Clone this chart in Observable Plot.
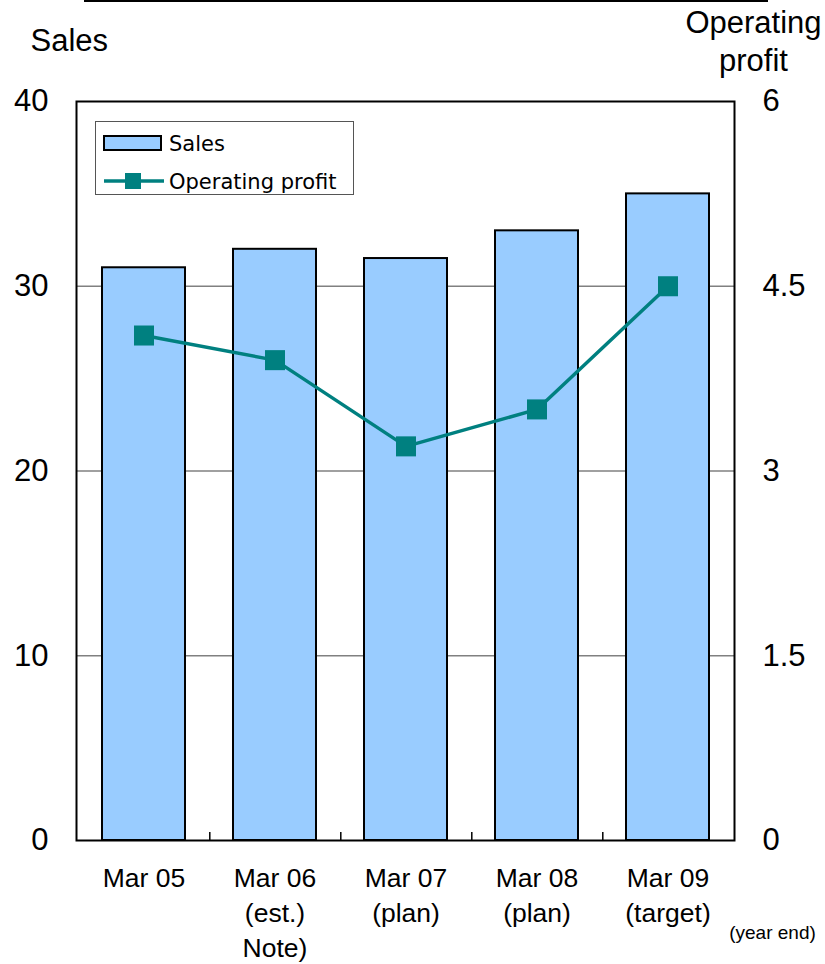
<!DOCTYPE html>
<html>
<head>
<meta charset="utf-8">
<script src="https://cdn.jsdelivr.net/npm/d3@7"></script>
<script src="https://cdn.jsdelivr.net/npm/@observablehq/plot@0.6"></script>
<style>
  html, body { margin: 0; padding: 0; background: #fff; }
  #wrap { position: relative; width: 825px; height: 964px; overflow: hidden; }
  #wrap > * { position: absolute; }
</style>
</head>
<body>
<div id="wrap"></div>
<script>
// ---- data ----
const categories = ["Mar 05", "Mar 06", "Mar 07", "Mar 08", "Mar 09"];
const categoryLabels = ["Mar 05", "Mar 06\n(est.)\nNote)", "Mar 07\n(plan)", "Mar 08\n(plan)", "Mar 09\n(target)"];
const sales = [31, 32, 31.5, 33, 35];
const operatingProfit = [4.1, 3.9, 3.2, 3.5, 4.5];
const salesTicks = [0, 10, 20, 30, 40];
const profitTicks = [0, 1.5, 3, 4.5, 6];
const gridValues = [10, 20, 30];

const salesMax = 40, profitMax = 6;
const k = salesMax / profitMax;
const rows = categories.map((c, i) => ({cat: c, sales: sales[i], profit: operatingProfit[i]}));

const teal = "#008080";
const barFill = "#99ccff";
const font = "'Liberation Sans', Arial, Helvetica, sans-serif";

const W = 825, H = 964;
const mL = 76, mR = 91, mT = 101, mB = 124;
const step = (W - mL - mR) / categories.length;
const pxPerUnit = (H - mT - mB) / salesMax;

const chart = Plot.plot({
  width: W,
  height: H,
  marginLeft: mL,
  marginRight: mR,
  marginTop: mT,
  marginBottom: mB,
  style: {fontFamily: font, background: "white", color: "black", overflow: "visible"},
  x: {domain: categories, paddingInner: 0.37, paddingOuter: 0.185, axis: null, label: null},
  y: {domain: [0, salesMax], axis: null, label: null},
  marks: [
    Plot.ruleY(gridValues, {stroke: "#808080", strokeWidth: 1.3}),
    Plot.barY(rows, {x: "cat", y: "sales", fill: barFill, stroke: "black", strokeWidth: 2}),
    Plot.ruleX(categories.slice(0, -1), {x: d => d, dx: step / 2, y1: 0, y2: 8 / pxPerUnit, stroke: "black", strokeWidth: 1.5}),
    Plot.line(rows, {x: "cat", y: d => d.profit * k, stroke: teal, strokeWidth: 3.5}),
    Plot.dot(rows, {x: "cat", y: d => d.profit * k, symbol: "square", r: 11.3, fill: teal, stroke: "none"}),
    Plot.axisY({anchor: "left", ticks: salesTicks, tickSize: 0, tickPadding: 28, fontSize: 31, label: null}),
    Plot.axisY({anchor: "right", ticks: profitTicks.map(v => v * k), tickFormat: d => String(+(d / k).toFixed(2)),
                tickSize: 0, tickPadding: 28, fontSize: 31, label: null}),
    Plot.axisX({ticks: categories, tickSize: 0, tickPadding: 21, fontSize: 26.5, lineHeight: 1.33,
                tickFormat: d => categoryLabels[categories.indexOf(d)], label: null}),
    Plot.frame({stroke: "black", strokeWidth: 2}),
    Plot.text(["Sales"], {text: d => d, frameAnchor: "top-left", dx: -46, dy: -51, textAnchor: "start", lineAnchor: "bottom", fontSize: 31}),
    Plot.text(["Operating\nprofit"], {text: d => d, frameAnchor: "top-right", dx: 19, dy: -31, textAnchor: "middle", lineAnchor: "bottom", fontSize: 31, lineHeight: 1.2}),
    Plot.text(["(year end)"], {text: d => d, frameAnchor: "bottom-right", dx: 38, dy: 92, textAnchor: "middle", lineAnchor: "middle", fontSize: 19})
  ]
});

const wrap = document.getElementById("wrap");
chart.style.left = "0px";
chart.style.top = "0px";
wrap.appendChild(chart);

// top rule
const topRule = document.createElement("div");
topRule.style.cssText = "left:84px;top:0px;width:684px;height:2px;background:#000;";
wrap.appendChild(topRule);

// legend
const NS = "http://www.w3.org/2000/svg";
const leg = document.createElementNS(NS, "svg");
leg.setAttribute("width", 260);
leg.setAttribute("height", 75);
leg.style.left = "95px";
leg.style.top = "121px";
leg.innerHTML = `
  <rect x="0.5" y="0.5" width="258" height="73" fill="white" stroke="#555" stroke-width="1"/>
  <rect x="9" y="15" width="57" height="14" fill="${barFill}" stroke="black" stroke-width="2"/>
  <text x="74" y="30" font-family="DejaVu Sans, sans-serif" font-size="21" fill="black">Sales</text>
  <line x1="9" x2="69" y1="60" y2="60" stroke="${teal}" stroke-width="3.5"/>
  <rect x="30" y="52" width="16" height="16" fill="${teal}"/>
  <text x="74" y="67.5" font-family="DejaVu Sans, sans-serif" font-size="21" fill="black">Operating profit</text>
`;
wrap.appendChild(leg);
</script>
</body>
</html>
